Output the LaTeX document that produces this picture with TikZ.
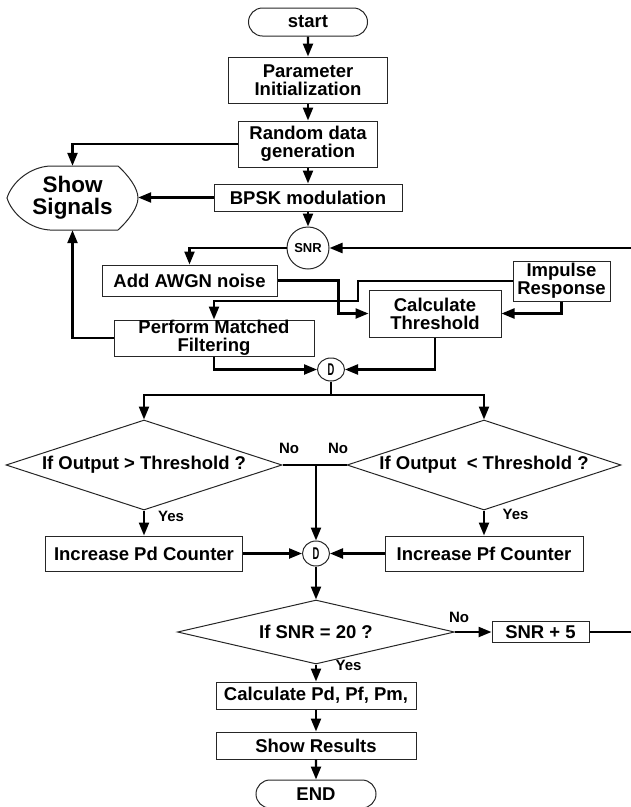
\documentclass[tikz,border=0pt]{standalone}
\usepackage{fontspec}
\setmainfont{Liberation Sans}
\usepackage{graphicx}
\usetikzlibrary{arrows.meta,shapes.geometric,shapes.misc,calc}
\newcommand\mainf{\bfseries\fontsize{18.5}{18}\selectfont}
\newcommand\smallf{\bfseries\fontsize{15}{15}\selectfont}
\newcommand\dfont{\bfseries\fontsize{17}{17}\selectfont}
\newcommand\dlet{\scalebox{0.55}[1]{D}}
\begin{document}
\begin{tikzpicture}[x=1pt,y=-1pt,
 box/.style={draw=black!85,line width=1pt,rectangle,inner sep=0pt,align=center,font=\mainf},
 term/.style={draw=black!85,line width=1pt,rounded rectangle,inner sep=0pt,font=\mainf},
 dec/.style={draw=black!85,line width=1pt,diamond,inner sep=0pt,align=center,font=\mainf},
 conn/.style={draw=black!85,line width=1pt,ellipse,inner sep=0pt},
 lbl/.style={font=\smallf,inner sep=0pt},
 arr/.style={line width=2.3pt,-{Triangle[length=13pt,width=10pt]}},
 ln/.style={line width=2.3pt},
]
\useasboundingbox (0,0) rectangle (631,807);
\clip (0,0) rectangle (631,807);

% nodes
\node[term,minimum width=119pt,minimum height=28pt] (start) at (308,22) {start};
\node[box,minimum width=159pt,minimum height=46pt] (param) at (308,80) {Parameter\\Initialization};
\node[box,minimum width=139pt,minimum height=46pt] (rand) at (308,144) {Random data\\generation};
\node[box,minimum width=188pt,minimum height=27pt] (bpsk) at (308,197.5) {BPSK modulation};
\node[minimum width=131pt,minimum height=64pt,inner sep=0pt,align=center,font=\bfseries\fontsize{22.5}{22}\selectfont] (show) at (72.5,198) {Show\\Signals};
\draw[draw=black!85,line width=1pt] (50,166) -- (118,166) .. controls (128,175) and (138,188) .. (138,198) .. controls (138,208) and (128,221) .. (118,230) -- (50,230) .. controls (30,229) and (12,214) .. (7,198) .. controls (12,182) and (30,167) .. (50,166) -- cycle;
\node[conn,minimum width=42pt,minimum height=42pt,font=\bfseries\fontsize{13}{13}\selectfont] (snr) at (308,248) {SNR};
\node[box,minimum width=175pt,minimum height=31pt] (awgn) at (189.5,280.5) {Add AWGN noise};
\node[box,minimum width=97pt,minimum height=40pt] (imp) at (561.5,281) {Impulse\\Response};
\node[box,minimum width=132pt,minimum height=47pt] (thr) at (435,313.5) {Calculate\\Threshold};
\node[box,minimum width=200pt,minimum height=36pt] (mf) at (214,338) {Perform Matched\\Filtering};
\node[conn,minimum width=27pt,minimum height=23pt,font=\dfont] (d1) at (331,369.5) {\dlet};
\node[dec,minimum width=276pt,minimum height=90pt,shape aspect=3.07] (dia1) at (144,465) {If Output > Threshold ?};
\node[dec,minimum width=274pt,minimum height=90pt,shape aspect=3.05] (dia2) at (484,465) {If Output\ \ < Threshold ?};
\node[box,minimum width=197pt,minimum height=35pt] (incpd) at (144,553.5) {Increase Pd Counter};
\node[box,minimum width=198pt,minimum height=35pt] (incpf) at (484,553.5) {Increase Pf Counter};
\node[conn,minimum width=27pt,minimum height=25pt,font=\dfont] (d2) at (316,553.5) {\dlet};
\node[dec,minimum width=277pt,minimum height=64pt,shape aspect=4.33] (dia3) at (316,632) {If SNR = 20 ?};
\node[box,minimum width=97pt,minimum height=21pt] (plus) at (540.5,632) {SNR + 5};
\node[box,minimum width=200pt,minimum height=27pt] (pcalc) at (316,695.5) {Calculate Pd, Pf, Pm,};
\node[box,minimum width=200pt,minimum height=27pt] (res) at (316,745.5) {Show Results};
\node[term,minimum width=120pt,minimum height=28pt] (finish) at (316,794) {END};

% labels
\node[lbl] (no1) at (289,448) {No};
\node[lbl] (no2) at (338,448) {No};
\node[lbl] (yes1) at (171,516) {Yes};
\node[lbl] (yes2) at (515.5,514) {Yes};
\node[lbl] (no3) at (459,617) {No};
\node[lbl] (yes3) at (348.5,665) {Yes};

% coordinates
\coordinate (rtop) at (631,248);
\coordinate (rbot) at (631,632);
\coordinate (split) at (331,395);
\coordinate (join) at (316,465);

% connectors
\draw[arr] (start) -- (param);
\draw[arr] (param) -- (rand);
\draw[arr] (rand) -- (bpsk);
\draw[arr] (bpsk) -- (snr);
\draw[arr] (rand.west) -| (show.north);
\draw[arr] (bpsk.west) -- (bpsk.west -| show.east);
\draw[arr] (snr.west) -| (awgn.north);
\draw[arr] (rtop) -- (snr.east);
\draw[ln] (plus.east) -- (rbot);
\draw[arr] (awgn.east) -| ($(thr.west)+(-30,0)$) -- (thr.west);
\draw[arr] (imp.west) -| (358,301) -| (mf.north);
\draw[arr] (imp.south) |- (thr.east);
\draw[arr] (thr.south) |- (d1.east);
\draw[arr] (mf.south) |- (d1.west);
\draw[arr] (mf.west) -| (show.south);
\draw[ln] (d1.south) -- (split);
\draw[arr] (split) -| (dia1.north);
\draw[arr] (split) -| (dia2.north);
\draw[ln] (dia1.east) -- (join);
\draw[ln] (dia2.west) -- (join);
\draw[arr] (join) -- (d2.north);
\draw[arr] (dia1.south) -- (incpd.north);
\draw[arr] (dia2.south) -- (incpf.north);
\draw[arr] (incpd.east) -- (d2.west);
\draw[arr] (incpf.west) -- (d2.east);
\draw[arr] (d2.south) -- (dia3.north);
\draw[arr] (dia3.east) -- (plus.west);
\draw[arr] (dia3.south) -- (pcalc.north);
\draw[arr] (pcalc) -- (res);
\draw[arr] (res) -- (finish);
\end{tikzpicture}
\end{document}
